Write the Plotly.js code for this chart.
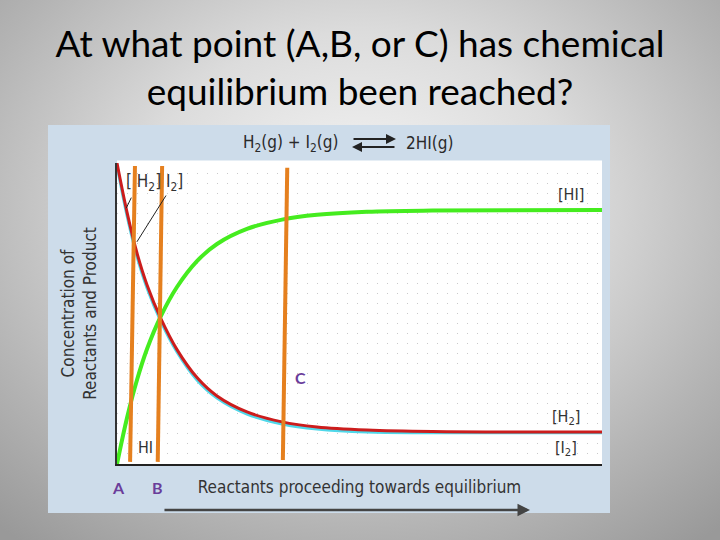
<!DOCTYPE html>
<html>
<head>
<meta charset="utf-8">
<script src="https://cdn.plot.ly/plotly-3.0.1.min.js"></script>
<style>
html,body{margin:0;padding:0;width:720px;height:540px;overflow:hidden;
background:radial-gradient(ellipse 75% 80% at 50% 38%, #f6f6f6 0%, #dcdcdc 40%, #b4b4b4 75%, #999999 100%);}
#chart{width:720px;height:540px;}
</style>
</head>
<body>
<div id="chart"></div>
<script>
// ---- data (x: progress of reaction, y: relative concentration) ----
var progress = [0, 0.206, 0.412, 0.619, 0.907, 1.237, 1.649, 2.062, 2.680, 3.402, 4.124, 5.155, 6.5, 10];
var hiY = [0, 0.153, 0.279, 0.382, 0.492, 0.588, 0.674, 0.731, 0.781, 0.812, 0.828, 0.838, 0.842, 0.844];
var h2Y = [1.0, 0.837, 0.701, 0.595, 0.482, 0.380, 0.287, 0.226, 0.173, 0.140, 0.123, 0.113, 0.108, 0.106];
var i2Y = [0.992, 0.826, 0.690, 0.585, 0.473, 0.372, 0.279, 0.219, 0.166, 0.133, 0.116, 0.106, 0.104, 0.104];

// hand-drawn orange marker lines A, B, C (top and bottom ends)
var markA = {x: [0.37, 0.27], y: [0.99, 0.007]};
var markB = {x: [0.93, 0.84], y: [0.99, 0.007]};
var markC = {x: [3.51, 3.42], y: [0.984, 0.013]};

var pointLabels = ['A', 'B', 'C'];
var seriesLabels = ['[HI]', '[H<sub>2</sub>]', '[I<sub>2</sub>]', 'HI', '[ H<sub>2</sub>] I<sub>2</sub>]'];

var chartFont = 'DejaVu Sans Condensed, Liberation Sans Narrow, DejaVu Sans, sans-serif';
var ink = '#333333';
var orange = '#e5801f';

var traces = [
  {x: progress, y: i2Y, mode: 'lines', line: {color: '#4fd8ea', width: 3, shape: 'spline'}, name: '[I2]'},
  {x: progress, y: h2Y, mode: 'lines', line: {color: '#cc1d1d', width: 3, shape: 'spline'}, name: '[H2]'},
  {x: progress, y: hiY, mode: 'lines', line: {color: '#45ec1f', width: 4, shape: 'spline'}, name: '[HI]'},
  {x: markA.x, y: markA.y, mode: 'lines', line: {color: orange, width: 4}, name: 'A'},
  {x: markB.x, y: markB.y, mode: 'lines', line: {color: orange, width: 4}, name: 'B'},
  {x: markC.x, y: markC.y, mode: 'lines', line: {color: orange, width: 4}, name: 'C'}
];

function txt(x, y, text, opts) {
  var a = {x: x, y: y, xref: 'x', yref: 'y', text: text, showarrow: false,
           xanchor: 'center', yanchor: 'middle',
           font: {family: chartFont, size: 16, color: ink}};
  for (var k in (opts || {})) a[k] = opts[k];
  return a;
}
function ptxt(x, y, text, opts) {
  return txt(x, y, text, Object.assign({xref: 'paper', yref: 'paper'}, opts || {}));
}
function parrow(x, y, ax, ay, opts) {
  var a = {x: x, y: y, ax: ax, ay: ay, xref: 'paper', yref: 'paper',
           text: '', showarrow: true, arrowhead: 2, arrowsize: 1, arrowwidth: 2, arrowcolor: '#222'};
  for (var k in (opts || {})) a[k] = opts[k];
  return a;
}
function darrow(x, y, ax, ay) {
  return {x: x, y: y, ax: ax, ay: ay, xref: 'x', yref: 'y', axref: 'x', ayref: 'y',
          text: '', showarrow: true, arrowhead: 0, arrowwidth: 1, arrowcolor: '#222'};
}
var purple = {family: 'Lato, Open Sans, sans-serif', size: 16, color: '#6a3d9a', weight: 'bold'};
var eqFont = {family: chartFont, size: 17, color: '#2a2a2a'};

var annotations = [
  txt(9.36, 0.897, seriesLabels[0]),
  txt(9.26, 0.156, seriesLabels[1]),
  txt(9.26, 0.050, seriesLabels[2]),
  txt(0.58, 0.056, seriesLabels[3]),
  txt(0.14, 0.934, seriesLabels[4], {xanchor: 'left', font: {family: chartFont, size: 17, color: ink}}),
  // leader lines from the [H2] I2] label
  darrow(0.19, 0.85, 0.31, 0.89),
  darrow(0.41, 0.738, 1.03, 0.897),
  // reaction equation
  ptxt(0.4598, 1.0664, 'H<sub>2</sub>(g) + I<sub>2</sub>(g)', {xanchor: 'right', font: eqFont}),
  ptxt(0.5918, 1.0664, '2HI(g)', {xanchor: 'left', font: eqFont}),
  parrow(0.5753, 1.0797, -44, 0),
  parrow(0.4845, 1.0532, 44, 0),
  // direction arrow below x title
  parrow(0.8515, -0.1528, -367, 0, {arrowwidth: 2.5, arrowcolor: '#444'}),
  // point labels
  ptxt(0.0041, -0.0797, pointLabels[0], {font: purple}),
  ptxt(0.0825, -0.0797, pointLabels[1], {font: purple}),
  txt(3.79, 0.286, pointLabels[2], {font: purple})
];

var layout = {
  width: 720, height: 540,
  paper_bgcolor: 'rgba(0,0,0,0)',
  plot_bgcolor: 'rgba(0,0,0,0)',
  margin: {l: 117, r: 118, t: 163, b: 76},
  showlegend: false,
  title: {
    text: 'At what point (A,B, or C) has chemical<br>equilibrium been reached?',
    font: {family: 'Lato, Open Sans, sans-serif', size: 37, color: '#000'},
    x: 0.5, xref: 'container', xanchor: 'center',
    y: 0.894, yref: 'container', yanchor: 'top'
  },
  xaxis: {
    range: [0, 10], showgrid: false, zeroline: false, showticklabels: false, ticks: '',
    showline: true, linecolor: '#222', linewidth: 1.5,
    title: {text: 'Reactants proceeding towards equilibrium', standoff: 16,
            font: {family: chartFont, size: 17, color: ink}},
    automargin: false
  },
  yaxis: {
    range: [0, 1], dtick: 1/30, showgrid: true, gridcolor: '#c9c9c9', gridwidth: 1, griddash: '1px,9px',
    zeroline: false, showticklabels: false, ticks: '',
    showline: true, linecolor: '#333', linewidth: 2.5,
    title: {text: 'Concentration of<br>Reactants and Product', standoff: 14,
            font: {family: chartFont, size: 17, color: ink}},
    automargin: false
  },
  shapes: [
    {type: 'rect', xref: 'paper', yref: 'paper', x0: -0.1423, x1: 1.0165, y0: -0.1628, y1: 1.1262,
     fillcolor: '#cddcea', line: {width: 0}, layer: 'below'},
    {type: 'rect', xref: 'paper', yref: 'paper', x0: 0, x1: 1, y0: 0, y1: 1.008,
     fillcolor: '#ffffff', line: {width: 0}, layer: 'below'}
  ],
  annotations: annotations
};

Plotly.newPlot('chart', traces, layout, {displayModeBar: false, staticPlot: true});
</script>
</body>
</html>
